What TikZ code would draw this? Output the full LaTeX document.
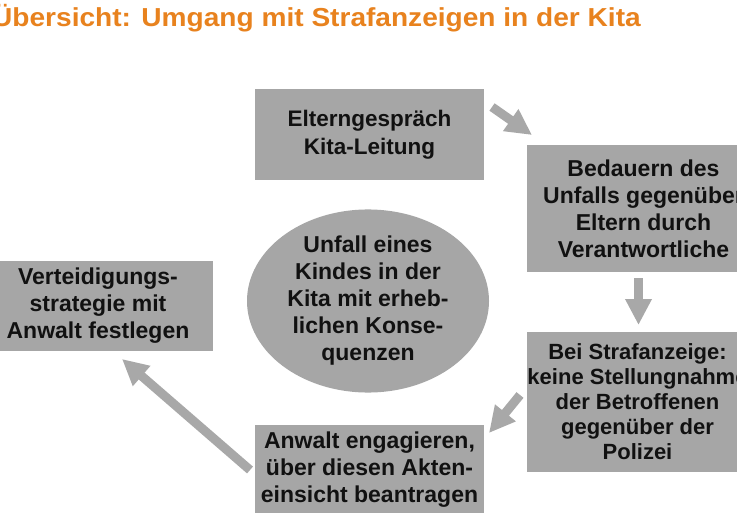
\documentclass[tikz,border=0pt]{standalone}
\usepackage{fontspec}
\setmainfont{Liberation Sans}
\usetikzlibrary{shapes.geometric,arrows.meta}
\definecolor{boxgray}{HTML}{A6A6A6}
\definecolor{arrgray}{HTML}{A8A8A8}
\definecolor{titleorange}{HTML}{E8821E}
\definecolor{txt}{HTML}{111111}
\tikzset{
  box/.style={fill=boxgray, draw=none, inner sep=0pt, align=center, text=txt,
    font=\fontsize{23bp}{27bp}\selectfont\bfseries},
  blockarrow/.style={draw=arrgray, line width=9bp,
    -{Triangle[width=25bp,length=26bp]}}
}
\begin{document}
\begin{tikzpicture}[x=1bp,y=-1bp]
\useasboundingbox (0,0) rectangle (737,513);
\clip (0,0) rectangle (737,513);
\fill[white] (0,0) rectangle (737,513);
% title
\node[anchor=base west, inner sep=0pt, text=titleorange,
  font=\fontsize{26bp}{30bp}\selectfont\bfseries] (title) at (-8,27)
  {\scalebox{1.08}[1]{Übersicht: Umgang mit Strafanzeigen in der Kita}};
% boxes
\node[box, minimum width=229bp, minimum height=91bp,
  font=\fontsize{22.5bp}{28bp}\selectfont\bfseries] (b1) at (369.5,134.5)
  {Elterngespräch\\Kita-Leitung};
\node[box, minimum width=233bp, minimum height=127bp] (b2) at (643.5,208.5)
  {Bedauern des\\Unfalls gegenüber\\Eltern durch\\Verantwortliche};
\node[box, minimum width=221bp, minimum height=140bp,
  font=\fontsize{22bp}{25bp}\selectfont\bfseries] (b3) at (637.5,402)
  {Bei Strafanzeige:\\keine Stellungnahme\\der Betroffenen\\gegenüber der\\Polizei};
\node[box, minimum width=229bp, minimum height=90bp] (b4) at (369.5,470)
  {Anwalt engagieren,\\über diesen Akten-\\einsicht beantragen};
\node[box, minimum width=230bp, minimum height=90bp] (b5) at (98,306)
  {Verteidigungs-\\strategie mit\\Anwalt festlegen};
\node[box, ellipse, minimum width=242bp, minimum height=158bp] (c) at (368,301)
  {Unfall eines\\Kindes in der\\Kita mit erheb-\\lichen Konse-\\quenzen};
% arrows
\coordinate (a1s) at (492,107);
\coordinate (a1e) at (532,135);
\coordinate (a2s) at (638.5,278);
\coordinate (a2e) at (638.5,325);
\coordinate (a3s) at (520,395);
\coordinate (a3e) at (489,433);
\coordinate (a4s) at (250,470);
\coordinate (a4e) at (122,359);
\draw[blockarrow] (a1s) -- (a1e);
\draw[blockarrow] (a2s) -- (a2e);
\draw[blockarrow] (a3s) -- (a3e);
\draw[blockarrow] (a4s) -- (a4e);
\end{tikzpicture}
\end{document}
